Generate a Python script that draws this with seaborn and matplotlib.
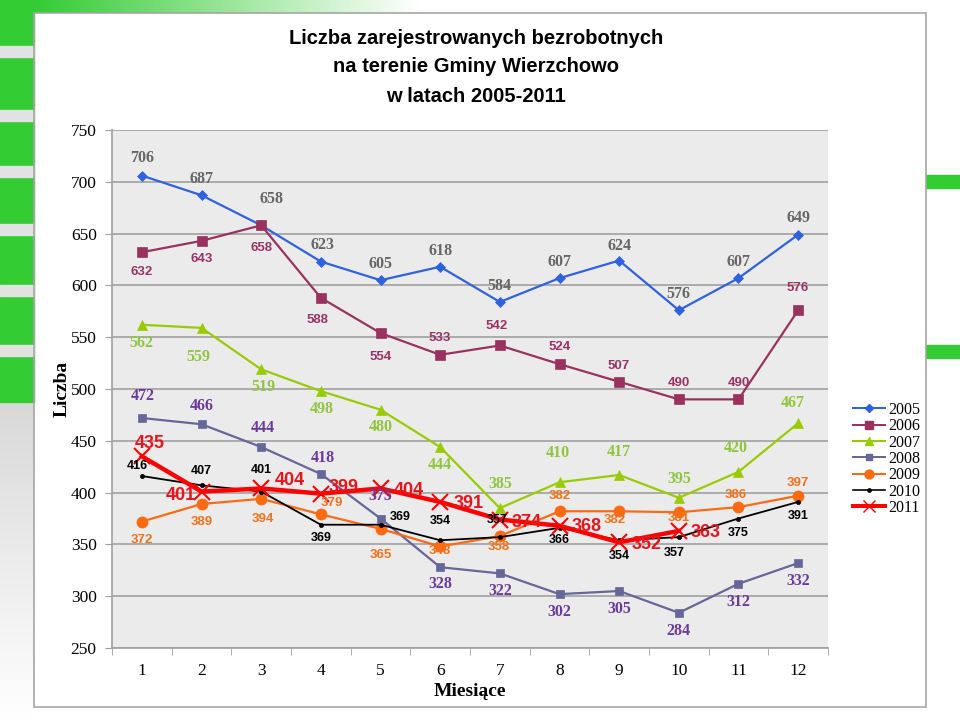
import numpy as np
import pandas as pd
import matplotlib
matplotlib.use("Agg")
import matplotlib.pyplot as plt
from matplotlib.patches import Rectangle
from matplotlib.lines import Line2D
import seaborn as sns

# data
months = list(range(1, 13))
years = ["2005", "2006", "2007", "2008", "2009", "2010", "2011"]
v2005 = [706, 687, 658, 623, 605, 618, 584, 607, 624, 576, 607, 649]
v2006 = [632, 643, 658, 588, 554, 533, 542, 524, 507, 490, 490, 576]
v2007 = [562, 559, 519, 498, 480, 444, 385, 410, 417, 395, 420, 467]
v2008 = [472, 466, 444, 418, 375, 328, 322, 302, 305, 284, 312, 332]
v2009 = [372, 389, 394, 379, 365, 348, 358, 382, 382, 381, 386, 397]
v2010 = [416, 407, 401, 369, 369, 354, 357, 366, 354, 357, 375, 391]
v2011 = [435, 401, 404, 399, 404, 391, 374, 368, 352, 363]
values = [v2005, v2006, v2007, v2008, v2009, v2010, v2011]

rows = []
for y, vals in zip(years, values):
    for m, v in zip(months, vals):
        rows.append({"month": m, "value": v, "year": y})
df = pd.DataFrame(rows)

# styles: line colour, marker, marker size, line width
styles = {
    "2005": dict(color="#2F62E0", marker="D", ms=5, lw=1.6),
    "2006": dict(color="#99325F", marker="s", ms=7, lw=1.6),
    "2007": dict(color="#99CC00", marker="^", ms=7, lw=1.6),
    "2008": dict(color="#666699", marker="s", ms=6, lw=1.6),
    "2009": dict(color="#FF6A10", marker="o", ms=8, lw=1.6),
    "2010": dict(color="#000000", marker="o", ms=3, lw=1.3),
    "2011": dict(color="#FF0000", marker="x", ms=11, lw=3.2),
}
# data label fonts
label_fonts = {
    "2005": dict(color="#666666", family="Liberation Serif", size=11.5, weight="bold"),
    "2006": dict(color="#993366", family="Liberation Sans", size=9.5, weight="bold"),
    "2007": dict(color="#8FC63F", family="Liberation Serif", size=11.5, weight="bold"),
    "2008": dict(color="#6A3A9C", family="Liberation Serif", size=11.5, weight="bold"),
    "2009": dict(color="#F2711C", family="Liberation Sans", size=9.5, weight="bold"),
    "2010": dict(color="#000000", family="Liberation Sans", size=9, weight="bold"),
    "2011": dict(color="#E8141C", family="Liberation Sans", size=13, weight="bold"),
}
# data label offsets in pixels (dx, dy up)
offsets = {
    "2005": [(0, 18), (0, 16), (10, 26), (2, 17), (0, 16), (0, 16), (0, 16), (0, 16), (0, 15), (0, 16), (0, 16), (0, 17)],
    "2006": [(0, -20), (0, -18), (0, -23), (-3, -22), (0, -24), (0, 17), (-3, 19), (0, 17), (0, 16), (0, 16), (0, 16), (0, 22)],
    "2007": [(0, -18), (-3, -29), (2, -18), (1, -18), (0, -17), (0, -18), (0, 24), (-2, 29), (0, 23), (0, 19), (-3, 24), (-5, 20)],
    "2008": [(1, 22), (0, 18), (2, 19), (2, 16), (0, 23), (0, -17), (0, -18), (0, -18), (0, -18), (0, -18), (0, -18), (0, -18)],
    "2009": [(0, -18), (0, -18), (2, -20), (11, 11), (0, -26), (0, -5), (-1, -11), (0, 15), (-4, -9), (0, -6), (-3, 12), (0, 13)],
    "2010": [(-5, 10), (0, 14), (0, 22), (0, -13), (20, 8), (0, 19), (-3, 17), (0, -12), (0, -16), (-5, -16), (0, -14), (0, -14)],
    "2011": [(8, 13), (-21, -4), (29, 8), (23, 6), (28, -2), (28, -2), (27, -3), (27, -1), (27, -2), (27, -2)],
}

fig = plt.figure(figsize=(9.6, 7.2), dpi=100, facecolor="white")

# slide decoration around the chart
bg = fig.add_axes([0, 0, 1, 1], zorder=-5)
bg.set_xlim(0, 960)
bg.set_ylim(720, 0)
bg.axis("off")
bg.imshow(np.linspace(0, 1, 256).reshape(1, -1), cmap=matplotlib.colors.LinearSegmentedColormap.from_list(
    "g", ["#33CC33", "#FFFFFF"]), extent=(34, 420, 13, 0), aspect="auto")
bg.add_patch(Rectangle((0, 0), 34, 402, color="#33CC33"))
for gy in [46, 110, 166, 224, 285, 345]:
    bg.add_patch(Rectangle((0, gy), 34, 11, color="#E2E2E2"))
bg.imshow(np.linspace(0, 1, 256).reshape(-1, 1), cmap=matplotlib.colors.LinearSegmentedColormap.from_list(
    "gr", ["#D8D8D8", "#FFFFFF"]), extent=(0, 34, 720, 402), aspect="auto")
bg.add_patch(Rectangle((926, 175), 34, 13, color="#33CC33"))
bg.add_patch(Rectangle((926, 345), 34, 13, color="#33CC33"))
bg.add_patch(Rectangle((34, 13), 892, 694, fill=False, edgecolor="#A6A6A6", lw=1.2))

ax = fig.add_axes([112 / 960, 72 / 720, 716 / 960, 518 / 720])
ax.set_facecolor("#EBEBEB")

handles = []
for z, y in enumerate(years):
    st = styles[y]
    sub = df[df["year"] == y]
    sns.lineplot(data=sub, x="month", y="value", ax=ax, color=st["color"],
                 marker=st["marker"], markersize=st["ms"], linewidth=st["lw"],
                 markeredgecolor=st["color"], markerfacecolor=st["color"],
                 markeredgewidth=1.5 if st["marker"] == "x" else 0.5,
                 zorder=3 + z, legend=False)
    handles.append(Line2D([], [], color=st["color"], marker=st["marker"],
                          markersize=st["ms"] * 0.8, linewidth=st["lw"] * 0.9,
                          markeredgecolor=st["color"], label=y))
    lf = label_fonts[y]
    for m, v, (dx, dy) in zip(sub["month"], sub["value"], offsets[y]):
        ax.annotate(str(v), (m, v), xytext=(dx, dy), textcoords="offset pixels",
                    ha="center", va="center", color=lf["color"], fontsize=lf["size"],
                    fontfamily=lf["family"], fontweight=lf["weight"], zorder=20)

ax.set_xlim(0.5, 12.5)
ax.set_ylim(250, 750)
ax.set_yticks(range(250, 751, 50))
ax.set_xticks(months)
ax.set_xticks(np.arange(0.5, 13, 1), minor=True)
ax.grid(axis="y", color="#A0A0A0", lw=1.2, zorder=0)
ax.set_axisbelow(True)
for s in ["top", "right"]:
    ax.spines[s].set_visible(False)
for s in ["left", "bottom"]:
    ax.spines[s].set_color("#A0A0A0")
    ax.spines[s].set_linewidth(1.2)
ax.tick_params(axis="y", length=5, color="#A0A0A0", pad=6, labelsize=12.5)
ax.tick_params(axis="x", which="major", length=0, pad=11, labelsize=12.5)
ax.tick_params(axis="x", which="minor", length=5, color="#A0A0A0")
for lab in ax.get_xticklabels() + ax.get_yticklabels():
    lab.set_fontfamily("Liberation Serif")

ax.set_xlabel("Miesiące", fontfamily="Liberation Serif", fontweight="bold", fontsize=14, labelpad=3)
ax.set_ylabel("Liczba", fontfamily="Liberation Serif", fontweight="bold", fontsize=14, labelpad=0)

for ty, line in zip([38, 67, 97], ["Liczba zarejestrowanych bezrobotnych",
                                    "na terenie Gminy Wierzchowo", "w latach 2005-2011"]):
    fig.text(476 / 960, 1 - ty / 720, line, ha="center", va="center",
             fontfamily="Liberation Sans", fontweight="bold", fontsize=14.5)

fig.legend(handles=handles, loc="upper left", bbox_to_anchor=(845 / 960, 1 - 394 / 720),
           frameon=False, prop={"family": "Liberation Serif", "size": 11.5},
           handlelength=2.0, handletextpad=0.2, labelspacing=0.02, borderpad=0)

fig.savefig("out.png", dpi=100, facecolor="white")
